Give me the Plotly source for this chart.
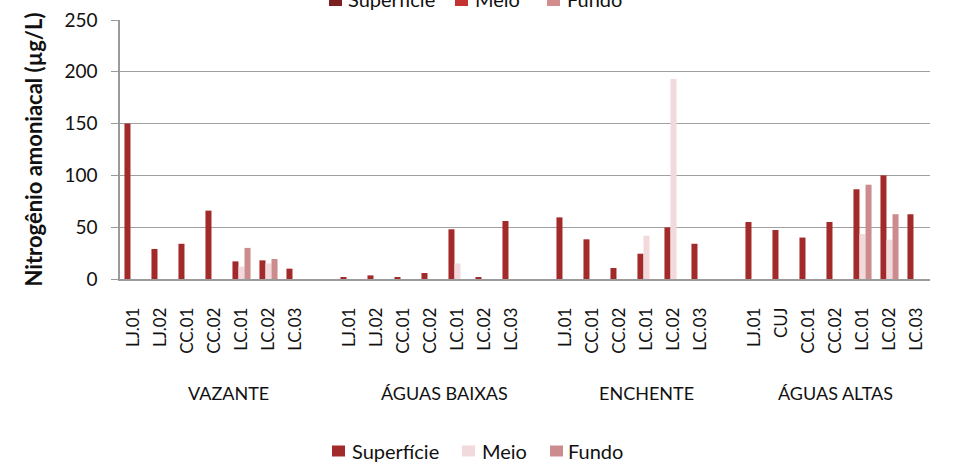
import plotly.graph_objects as go

# ---- data ----
periods = ["VAZANTE", "ÁGUAS BAIXAS", "ENCHENTE", "ÁGUAS ALTAS"]
stations = [
    ["LJ.01", "LJ.02", "CC.01", "CC.02", "LC.01", "LC.02", "LC.03"],
    ["LJ.01", "LJ.02", "CC.01", "CC.02", "LC.01", "LC.02", "LC.03"],
    ["LJ.01", "CC.01", "CC.02", "LC.01", "LC.02", "LC.03"],
    ["LJ.01", "CUJ", "CC.01", "CC.02", "LC.01", "LC.02", "LC.03"],
]
superficie = [
    [150, 29, 34, 66, 17, 18, 10],
    [1, 3.5, 1.3, 5.8, 48, 1.3, 56],
    [59.5, 38.3, 10.6, 24.4, 49.8, 34],
    [55, 47.3, 40, 55, 86.6, 100, 62.5],
]
meio = [
    [None, None, None, None, 12, 15, None],
    [None, None, None, None, 15, None, None],
    [None, None, None, 41.8, 193, None],
    [None, None, None, None, 43.4, 38, None],
]
fundo = [
    [None, None, None, None, 30, 19.3, None],
    [None, None, None, None, None, None, None],
    [None, None, None, None, None, None],
    [None, None, None, None, 91, 62.5, None],
]
y_ticks = [0, 50, 100, 150, 200, 250]
series_names = ["Superfície", "Meio", "Fundo"]
top_legend_colors = ["#7b1f20", "#c23331", "#d48d8d"]

# ---- build flat positions (one empty slot between periods) ----
xs, labels, s_vals, m_vals, f_vals, spans = [], [], [], [], [], []
pos = 0
for gi, st in enumerate(stations):
    start = pos
    for si, name in enumerate(st):
        xs.append(pos)
        labels.append(name)
        s_vals.append(superficie[gi][si])
        m_vals.append(meio[gi][si])
        f_vals.append(fundo[gi][si])
        pos += 1
    spans.append((start, pos))  # pos = blank slot after the group
    pos += 1
last = pos - 2  # last real slot
centers = [(a + min(b, last)) / 2 for a, b in spans]

c_sup = "#a32a2b"
c_meio = "#f2d9db"
c_fundo = "#cc8c8e"
bar_colors = [c_sup, c_meio, c_fundo]

FONT = "Lato"
W, H = 954, 465
ML, MR, MT, MB = 120, 24, 20, 186
PW, PH = W - ML - MR, H - MT - MB


def px_x(p):
    return (p - ML) / PW


def px_y(p):
    return (H - MB - p) / PH


fig = go.Figure()
for nm, vals, col in zip(series_names, [s_vals, m_vals, f_vals], bar_colors):
    fig.add_trace(go.Bar(x=xs, y=vals, name=nm, marker_color=col,
                         marker_line_width=0, showlegend=False))

for c, p in zip(centers, periods):
    fig.add_annotation(x=c, y=px_y(393), xref="x", yref="paper", text=p,
                       showarrow=False, yanchor="middle",
                       font=dict(family=FONT, size=18, color="#111"))


def add_legend(names, colors, sq_left, txt_left, yc, sq_h):
    for nm, col, sx, tx in zip(names, colors, sq_left, txt_left):
        fig.add_shape(type="rect", xref="paper", yref="paper",
                      x0=px_x(sx), x1=px_x(sx + 13),
                      y0=px_y(yc + sq_h / 2), y1=px_y(yc - sq_h / 2),
                      fillcolor=col, line_width=0)
        fig.add_annotation(x=px_x(tx), y=px_y(yc), xref="paper", yref="paper",
                           text=nm, showarrow=False, xanchor="left",
                           yanchor="middle", xshift=-2,
                           font=dict(family=FONT, size=20, color="#111"))


# clipped legend at the very top of the picture
add_legend(series_names, top_legend_colors, [329, 455, 547], [348, 475, 567], -1, 14)
# bottom legend
add_legend(series_names, bar_colors, [332, 462, 550], [352, 482, 568], 451, 11)

fig.update_layout(
    width=W, height=H,
    margin=dict(l=ML, r=MR, t=MT, b=MB, autoexpand=False),
    paper_bgcolor="white", plot_bgcolor="white",
    barmode="group", bargap=0.33, bargroupgap=0,
    font=dict(family=FONT, size=17, color="#111"),
    showlegend=False,
)
fig.update_xaxes(
    range=[-0.5, last + 0.5],
    tickmode="array", tickvals=xs, ticktext=labels,
    tickangle=-90, ticks="", ticklabelstandoff=20,
    tickfont=dict(family=FONT, size=17, color="#111"),
    showgrid=False, showline=True, linecolor="#9a9a9a", linewidth=1.5,
    zeroline=False,
)
fig.update_yaxes(
    range=[0, 250], tickmode="array", tickvals=y_ticks,
    ticks="outside", ticklen=7, tickcolor="#9a9a9a", ticklabelstandoff=10,
    tickfont=dict(family=FONT, size=19, color="#111"),
    showgrid=True, gridcolor="#a0a0a0", gridwidth=1.3,
    showline=True, linecolor="#9a9a9a", linewidth=1.5, zeroline=False,
    title=dict(text="<b>Nitrogênio amoniacal (µg/L)</b>", standoff=16,
               font=dict(family=FONT, size=22, color="#111")),
)

fig.write_html("out.html", config={"displayModeBar": False},
               post_script="document.body.style.margin='0';document.body.style.padding='0';")
